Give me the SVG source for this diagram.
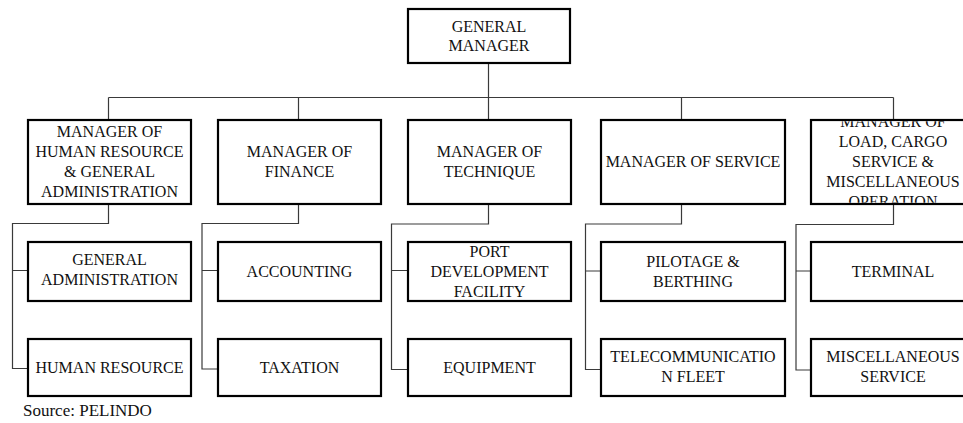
<svg xmlns="http://www.w3.org/2000/svg" width="963" height="423" viewBox="0 0 963 423">
  <style>
    .box { fill: #ffffff; stroke: #000000; stroke-width: 2.2; }
    .wire { fill: none; stroke: #3a3a3a; stroke-width: 1.2; }
  </style>
  <defs>
    <clipPath id="clip-load">
      <rect x="812" y="121.2" width="162" height="81.6"/>
    </clipPath>
  </defs>
  <rect width="963" height="423" fill="#ffffff"/>

  <!-- connectors -->
  <g id="connectors">
    <path class="wire" d="M488.5,63 V120"/>
    <path class="wire" d="M108.5,97.5 H893.5"/>
    <path class="wire" d="M108.5,97.5 V120 M298.5,97.5 V120 M681.5,97.5 V120 M893.5,97.5 V120"/>
    <!-- human resource branch -->
    <path class="wire" d="M108.5,204 V223.5 H12.5 V368.5 H28 M12.5,270.5 H28"/>
    <!-- finance branch -->
    <path class="wire" d="M298.5,204 V223.5 H202 V369 H218 M202,270.5 H218"/>
    <!-- technique branch -->
    <path class="wire" d="M488.5,204 V224 H391.5 V369.5 H408 M391.5,270.5 H408"/>
    <!-- service branch -->
    <path class="wire" d="M681.5,204 V224 H585.5 V369.5 H601 M585.5,271 H601"/>
    <!-- load & cargo branch -->
    <path class="wire" d="M893.5,204 V224.5 H796 V370 H811 M796,271 H811"/>
  </g>

  <!-- boxes -->
  <g id="general-manager"><rect class="box" x="408" y="9" width="162" height="54"/></g>
  <g id="mgr-hr"><rect class="box" x="28" y="120" width="163" height="84"/></g>
  <g id="mgr-finance"><rect class="box" x="218" y="120" width="163" height="84"/></g>
  <g id="mgr-technique"><rect class="box" x="408" y="120" width="163" height="84"/></g>
  <g id="mgr-service"><rect class="box" x="601" y="120" width="184" height="84"/></g>
  <g id="mgr-load"><rect class="box" x="811" y="120" width="164" height="84"/></g>
  <g id="unit-general-admin"><rect class="box" x="28" y="242" width="163" height="59"/></g>
  <g id="unit-accounting"><rect class="box" x="218" y="242" width="163" height="59"/></g>
  <g id="unit-port-dev"><rect class="box" x="408" y="242" width="163" height="59"/></g>
  <g id="unit-pilotage"><rect class="box" x="601" y="242" width="184" height="59"/></g>
  <g id="unit-terminal"><rect class="box" x="811" y="242" width="164" height="59"/></g>
  <g id="unit-human-resource"><rect class="box" x="28" y="339" width="163" height="57"/></g>
  <g id="unit-taxation"><rect class="box" x="218" y="339" width="163" height="57"/></g>
  <g id="unit-equipment"><rect class="box" x="408" y="339" width="163" height="57"/></g>
  <g id="unit-telecom"><rect class="box" x="601" y="339" width="184" height="57"/></g>
  <g id="unit-misc-service"><rect class="box" x="811" y="339" width="164" height="57"/></g>

  <!-- labels -->
  <g id="labels" font-family="Liberation Serif, Times New Roman, serif" font-size="16" fill="#111111" text-anchor="middle">
    <text x="489" y="31.5">GENERAL</text>
    <text x="489" y="51">MANAGER</text>

    <text x="109.5" y="137">MANAGER OF</text>
    <text x="109.5" y="157">HUMAN RESOURCE</text>
    <text x="109.5" y="177">&amp; GENERAL</text>
    <text x="109.5" y="197">ADMINISTRATION</text>

    <text x="299.5" y="157">MANAGER OF</text>
    <text x="299.5" y="177">FINANCE</text>

    <text x="489.5" y="157">MANAGER OF</text>
    <text x="489.5" y="177">TECHNIQUE</text>

    <text x="693" y="167">MANAGER OF SERVICE</text>

    <g clip-path="url(#clip-load)">
      <text x="893" y="127">MANAGER OF</text>
      <text x="893" y="147">LOAD, CARGO</text>
      <text x="893" y="167">SERVICE &amp;</text>
      <text x="893" y="187">MISCELLANEOUS</text>
      <text x="893" y="207">OPERATION</text>
    </g>

    <text x="109.5" y="265">GENERAL</text>
    <text x="109.5" y="285">ADMINISTRATION</text>
    <text x="299.5" y="277">ACCOUNTING</text>
    <text x="489.5" y="257">PORT</text>
    <text x="489.5" y="277">DEVELOPMENT</text>
    <text x="489.5" y="297">FACILITY</text>
    <text x="693" y="267">PILOTAGE &amp;</text>
    <text x="693" y="287">BERTHING</text>
    <text x="893" y="277">TERMINAL</text>

    <text x="109.5" y="373">HUMAN RESOURCE</text>
    <text x="299.5" y="373">TAXATION</text>
    <text x="489.5" y="373">EQUIPMENT</text>
    <text x="693" y="362">TELECOMMUNICATIO</text>
    <text x="693" y="382">N FLEET</text>
    <text x="893" y="362">MISCELLANEOUS</text>
    <text x="893" y="382">SERVICE</text>

    <text x="23" y="416" font-size="17" text-anchor="start">Source: PELINDO</text>
  </g>
</svg>
